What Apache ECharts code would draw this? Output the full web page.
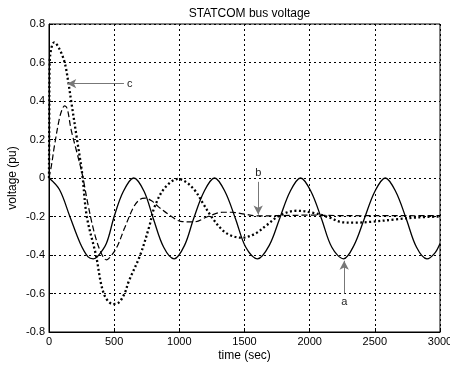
<!DOCTYPE html>
<html>
<head>
<meta charset="utf-8">
<script src="https://cdn.jsdelivr.net/npm/echarts@6/dist/echarts.min.js"></script>
<style>html,body{margin:0;padding:0;background:#fff;}#c{width:450px;height:367px;}</style>
</head>
<body>
<div id="c"></div>
<script>
// ---- data ----
const titleText = 'STATCOM bus voltage';
const xName = 'time (sec)';
const yName = 'voltage (pu)';
const xTicks = [0, 500, 1000, 1500, 2000, 2500, 3000];
const yTicks = [-0.8, -0.6, -0.4, -0.2, 0, 0.2, 0.4, 0.6, 0.8];

// curve a (solid)
const aTime = [0, 80, 160, 240, 300, 340, 370, 440, 500, 570, 650, 730, 800, 880, 960, 1040, 1110, 1190, 1270, 1350, 1430, 1510, 1600, 1690, 1770, 1850, 1930, 2010, 2090, 2170, 2260, 2340, 2420, 2500, 2580, 2660, 2740, 2820, 2900, 2960, 3000];
const aVolt = [0, -0.06, -0.2, -0.34, -0.41, -0.42, -0.41, -0.34, -0.2, -0.07, 0, -0.07, -0.21, -0.36, -0.42, -0.35, -0.21, -0.07, 0, -0.07, -0.21, -0.36, -0.42, -0.35, -0.21, -0.07, 0, -0.07, -0.21, -0.36, -0.42, -0.35, -0.21, -0.07, 0, -0.07, -0.21, -0.36, -0.42, -0.39, -0.34];

// curve b (dashed)
const bTime = [0, 20, 40, 77, 100, 120, 140, 170, 215, 255, 300, 350, 400, 440, 470, 520, 580, 650, 700, 740, 790, 840, 940, 1010, 1110, 1220, 1330, 1400, 1500, 1600, 1800, 2000, 2200, 2400, 2600, 2800, 3000];
const bVolt = [0, 0.07, 0.16, 0.30, 0.355, 0.375, 0.36, 0.25, 0.13, 0.02, -0.14, -0.29, -0.39, -0.425, -0.41, -0.36, -0.26, -0.15, -0.11, -0.105, -0.12, -0.15, -0.2, -0.225, -0.228, -0.2, -0.178, -0.178, -0.188, -0.197, -0.195, -0.193, -0.195, -0.196, -0.195, -0.196, -0.195];

// curve c (dotted)
const cTime = [0, 2, 5, 20, 40, 80, 120, 150, 170, 215, 255, 290, 360, 420, 490, 530, 580, 610, 700, 770, 810, 890, 990, 1050, 1120, 1180, 1245, 1330, 1400, 1480, 1580, 1670, 1770, 1900, 2020, 2150, 2250, 2350, 2480, 2660, 2820, 3000];
const cVolt = [0, 0.3, 0.6, 0.68, 0.705, 0.67, 0.6, 0.49, 0.4, 0.2, 0.02, -0.2, -0.4, -0.6, -0.655, -0.65, -0.6, -0.54, -0.4, -0.25, -0.15, -0.05, -0.005, -0.02, -0.065, -0.13, -0.2, -0.27, -0.3, -0.31, -0.29, -0.245, -0.195, -0.17, -0.18, -0.205, -0.23, -0.232, -0.227, -0.215, -0.205, -0.2];

// annotation arrows: [label, startT, startV, endT, endV]
const arrowA = ['a', 2265, -0.6, 2265, -0.43];
const arrowB = ['b', 1605, -0.02, 1605, -0.19];
const arrowC = ['c', 575, 0.49, 140, 0.49];

function zip(t, v) { return t.map((x, i) => [x, v[i]]); }
function arrowLine(a) {
  return [{ coord: [a[1], a[2]], label: { formatter: a[0] } }, { coord: [a[3], a[4]] }];
}

const chart = echarts.init(document.getElementById('c'), null, { renderer: 'canvas' });
const FONT = 'Liberation Sans, Arial, Helvetica, sans-serif';

const markLineCommon = {
  silent: true,
  symbol: ['none', 'arrow'],
  symbolSize: [7, 9],
  lineStyle: { color: '#777', width: 1, type: 'solid' },
  label: { show: true, position: 'start', distance: 3, color: '#222', fontSize: 11, fontFamily: FONT },
  emphasis: { disabled: true },
  animation: false
};

chart.setOption({
  animation: false,
  backgroundColor: '#fff',
  title: {
    text: titleText, left: 244.5, textAlign: 'center', top: 3,
    textStyle: { fontSize: 12, fontWeight: 'normal', color: '#000', fontFamily: FONT }
  },
  grid: { left: 49, right: 10, top: 24, bottom: 35, containLabel: false, outerBoundsMode: 'none', show: true, borderColor: '#000', borderWidth: 1, backgroundColor: 'transparent' },
  xAxis: {
    type: 'value', min: 0, max: 3000, interval: 500,
    name: xName, nameLocation: 'middle', nameGap: 18, nameMoveOverlap: false,
    nameTextStyle: { fontSize: 12, color: '#000', fontFamily: FONT },
    axisLine: { show: true, onZero: false, lineStyle: { color: '#000', width: 1 } },
    axisTick: { show: true, inside: true, length: 4, lineStyle: { color: '#000' } },
    axisLabel: { margin: 4, fontSize: 11, color: '#000', fontFamily: FONT, showMaxLabel: true, hideOverlap: false, formatter: v => String(v) },
    splitLine: { show: true, lineStyle: { color: '#000', type: [2, 3], width: 1 } }
  },
  yAxis: {
    type: 'value', min: -0.8, max: 0.8, interval: 0.2,
    name: yName, nameLocation: 'middle', nameGap: 30, nameRotate: 90, nameMoveOverlap: false,
    nameTextStyle: { fontSize: 12, color: '#000', fontFamily: FONT },
    axisLine: { show: true, onZero: false, lineStyle: { color: '#000', width: 1 } },
    axisTick: { show: true, inside: true, length: 4, lineStyle: { color: '#000' } },
    axisLabel: {
      margin: 4, fontSize: 11, color: '#000', fontFamily: FONT,
      formatter: v => { const r = Math.round(v * 10) / 10; return r === 0 ? '0' : String(r); }
    },
    splitLine: { show: true, lineStyle: { color: '#000', type: [2, 3], width: 1 } }
  },
  series: [
    {
      name: 'a', type: 'line', data: zip(aTime, aVolt), showSymbol: false, smooth: 0.35,
      lineStyle: { color: '#000', width: 1.3, type: 'solid' },
      markLine: Object.assign({}, markLineCommon, { data: [arrowLine(arrowA)] })
    },
    {
      name: 'b', type: 'line', data: zip(bTime, bVolt), showSymbol: false, smooth: 0.35,
      lineStyle: { color: '#000', width: 1.2, type: [6, 3] },
      markLine: Object.assign({}, markLineCommon, { data: [arrowLine(arrowB)] })
    },
    {
      name: 'c', type: 'line', data: zip(cTime, cVolt), showSymbol: false, smooth: 0.35,
      lineStyle: { color: '#000', width: 2.3, type: [2, 2.5] },
      markLine: Object.assign({}, markLineCommon, { data: [arrowLine(arrowC)] })
    }
  ]
});
</script>
</body>
</html>
